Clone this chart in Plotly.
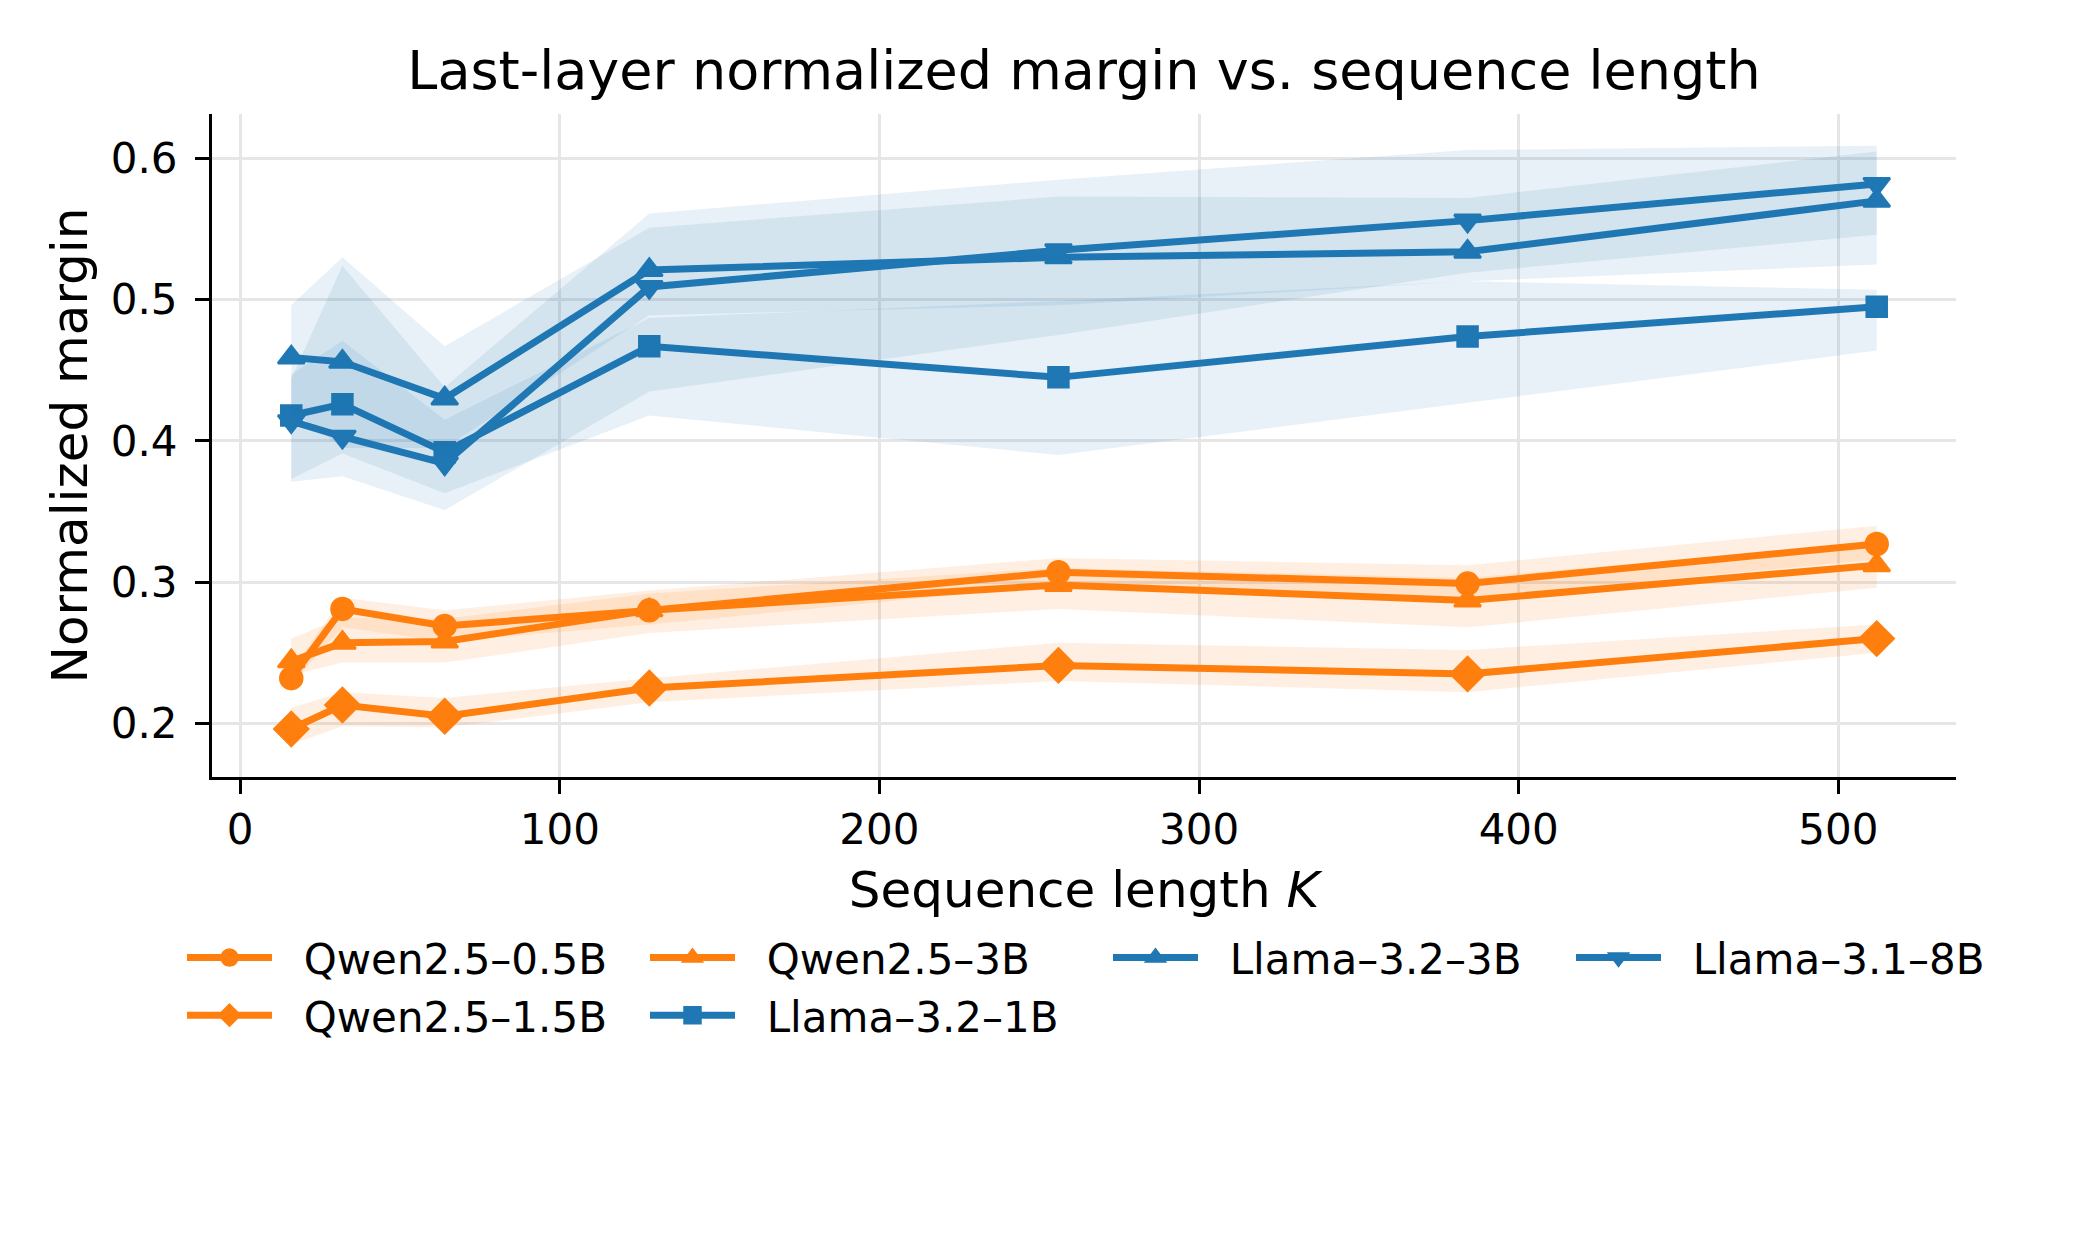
import plotly.graph_objects as go

# ---------------- data ----------------
seq_len = [16, 32, 64, 128, 256, 384, 512]

model_names = ["Qwen2.5–0.5B", "Qwen2.5–1.5B", "Qwen2.5–3B",
               "Llama–3.2–1B", "Llama–3.2–3B", "Llama–3.1–8B"]

qwen05_mean = [0.232, 0.281, 0.269, 0.280, 0.307, 0.299, 0.327]
qwen05_low  = [0.228, 0.268, 0.258, 0.270, 0.298, 0.289, 0.316]
qwen05_high = [0.237, 0.289, 0.280, 0.294, 0.317, 0.312, 0.340]

qwen15_mean = [0.196, 0.213, 0.205, 0.225, 0.241, 0.235, 0.260]
qwen15_low  = [0.185, 0.198, 0.197, 0.215, 0.230, 0.222, 0.250]
qwen15_high = [0.211, 0.222, 0.218, 0.232, 0.257, 0.252, 0.270]

qwen3_mean = [0.244, 0.257, 0.258, 0.280, 0.298, 0.287, 0.312]
qwen3_low  = [0.234, 0.243, 0.243, 0.264, 0.281, 0.268, 0.296]
qwen3_high = [0.260, 0.275, 0.274, 0.292, 0.310, 0.303, 0.328]

llama1_mean = [0.418, 0.426, 0.392, 0.467, 0.445, 0.474, 0.495]
llama1_low  = [0.373, 0.391, 0.363, 0.418, 0.390, 0.427, 0.464]
llama1_high = [0.447, 0.471, 0.415, 0.487, 0.499, 0.513, 0.507]

llama3_mean = [0.459, 0.456, 0.430, 0.521, 0.530, 0.534, 0.570]
llama3_low  = [0.422, 0.395, 0.395, 0.489, 0.496, 0.513, 0.525]
llama3_high = [0.496, 0.530, 0.467, 0.551, 0.573, 0.572, 0.605]

llama8_mean = [0.414, 0.403, 0.384, 0.509, 0.535, 0.556, 0.582]
llama8_low  = [0.371, 0.375, 0.351, 0.435, 0.475, 0.519, 0.546]
llama8_high = [0.444, 0.524, 0.438, 0.561, 0.585, 0.606, 0.609]

x_ticks = [0, 100, 200, 300, 400, 500]
y_ticks = [0.2, 0.3, 0.4, 0.5, 0.6]

# ---------------- styling ----------------
ORANGE = "#ff7f0e"
BLUE = "#1f77b4"
ORANGE_FILL = "rgba(255,127,14,0.12)"
BLUE_FILL = "rgba(31,119,180,0.10)"
FONT = "DejaVu Sans"
PAD = "\u00a0\u00a0"

series = [
    (model_names[0], qwen05_mean, qwen05_low, qwen05_high, ORANGE, ORANGE_FILL, "circle", 22, 1),
    (model_names[1], qwen15_mean, qwen15_low, qwen15_high, ORANGE, ORANGE_FILL, "diamond", 26, 5),
    (model_names[2], qwen3_mean, qwen3_low, qwen3_high, ORANGE, ORANGE_FILL, "triangle-up", 23, 2),
    (model_names[3], llama1_mean, llama1_low, llama1_high, BLUE, BLUE_FILL, "square", 20, 6),
    (model_names[4], llama3_mean, llama3_low, llama3_high, BLUE, BLUE_FILL, "triangle-up", 23, 3),
    (model_names[5], llama8_mean, llama8_low, llama8_high, BLUE, BLUE_FILL, "triangle-down", 23, 4),
]

fig = go.Figure()
for name, mean, low, high, col, fillcol, sym, msize, rank in series:
    fig.add_trace(go.Scatter(x=seq_len, y=low, mode="lines", line=dict(width=0, color=fillcol),
                             showlegend=False, hoverinfo="skip"))
    fig.add_trace(go.Scatter(x=seq_len, y=high, mode="lines", line=dict(width=0, color=fillcol),
                             fill="tonexty", fillcolor=fillcol, showlegend=False, hoverinfo="skip"))
    fig.add_trace(go.Scatter(x=seq_len, y=mean, mode="lines+markers", name=PAD + name,
                             line=dict(color=col, width=7),
                             marker=dict(symbol=sym, size=msize, color=col,
                                         line=dict(width=2.5, color=col)),
                             legendrank=rank))

axis_common = dict(
    showline=True, linecolor="black", linewidth=3, mirror=False,
    ticks="outside", ticklen=14, tickwidth=3, tickcolor="black",
    showgrid=True, gridcolor="#e6e6e6", gridwidth=2.5, zeroline=False,
    tickfont=dict(family=FONT, size=42, color="black"),
)

fig.update_layout(
    width=2100, height=1260,
    paper_bgcolor="white", plot_bgcolor="white",
    margin=dict(l=204, r=152, t=106, b=491, autoexpand=False),
    font=dict(family=FONT, color="black"),
    title=dict(text="Last-layer normalized margin vs. sequence length",
               x=0.5, xref="paper", xanchor="center",
               y=1 - 62 / 1260, yref="container", yanchor="middle",
               font=dict(family=FONT, size=54, color="black")),
    xaxis=dict(range=[-8.8, 536.8], tickvals=x_ticks,
               title=dict(text="Sequence length <i>K</i>", standoff=19,
                          font=dict(family=FONT, size=50, color="black")),
               **axis_common),
    yaxis=dict(range=[0.162, 0.6315], tickvals=y_ticks, ticktext=[f"{v:.1f}" for v in y_ticks],
               ticklabelstandoff=9,
               title=dict(text="Normalized margin", standoff=8,
                          font=dict(family=FONT, size=50, color="black")),
               **axis_common),
    legend=dict(orientation="h", x=-0.0172, xanchor="left", y=-0.2214, yanchor="top",
                entrywidth=363, entrywidthmode="pixels", itemwidth=85,
                font=dict(family=FONT, size=42, color="black"),
                bgcolor="rgba(0,0,0,0)", traceorder="normal"),
    showlegend=True,
)

fig.write_html("out.html")
